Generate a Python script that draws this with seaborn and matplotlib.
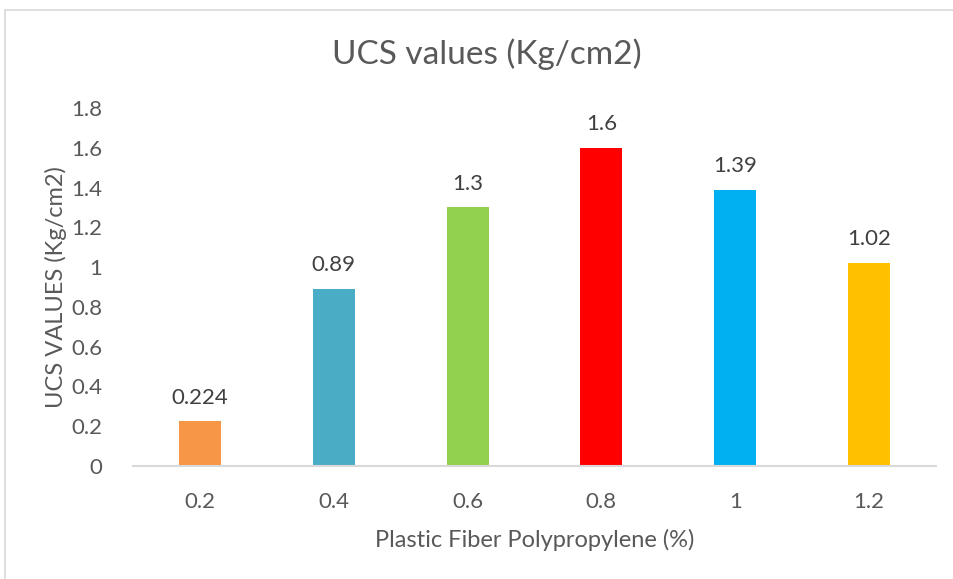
import matplotlib
matplotlib.use("Agg")
import matplotlib.pyplot as plt
import seaborn as sns
import pandas as pd
from matplotlib.lines import Line2D

categories = ["0.2", "0.4", "0.6", "0.8", "1", "1.2"]
values = [0.224, 0.89, 1.3, 1.6, 1.39, 1.02]
value_labels = ["0.224", "0.89", "1.3", "1.6", "1.39", "1.02"]
colors = ["#F79646", "#4BACC6", "#92D050", "#FF0000", "#00B0F0", "#FFC000"]
yticks = [0, 0.2, 0.4, 0.6, 0.8, 1.0, 1.2, 1.4, 1.6, 1.8]
ytick_labels = ["0", "0.2", "0.4", "0.6", "0.8", "1", "1.2", "1.4", "1.6", "1.8"]

sns.set_theme(style="white")
plt.rcParams['font.family'] = ['Lato', 'DejaVu Sans']
txt = "#595959"

df = pd.DataFrame({"cat": categories, "val": values})

fig = plt.figure(figsize=(9.54, 5.79), dpi=100)
ax = fig.add_axes([133/954, 1-466/579, (936-133)/954, (466-108)/579])
sns.barplot(data=df, x="cat", y="val", hue="cat", palette=colors,
            order=categories, hue_order=categories, legend=False,
            width=0.315, saturation=1, linewidth=0, ax=ax)

ax.set_ylim(0, 1.8)
ax.set_xlim(-0.5, len(categories) - 0.5)
ax.set_yticks(yticks)
ax.set_yticklabels(ytick_labels)
ax.tick_params(axis='both', length=0, labelsize=16, colors=txt)
ax.tick_params(axis='x', pad=19)
ax.tick_params(axis='y', pad=22)
for s in ["top", "right", "left"]:
    ax.spines[s].set_visible(False)
ax.spines["bottom"].set_color("#D9D9D9")
ax.spines["bottom"].set_linewidth(1.5)

for p, lab in zip(ax.patches, value_labels):
    ax.annotate(lab, (p.get_x() + p.get_width() / 2, p.get_height()),
                xytext=(0, 10), textcoords="offset points",
                ha="center", va="bottom", fontsize=16, color="#404040")

ax.set_xlabel("Plastic Fiber Polypropylene (%)", fontsize=17, color=txt, labelpad=12)
ax.set_ylabel("UCS VALUES (Kg/cm2)", fontsize=17, color=txt)
ax.yaxis.set_label_coords(-0.082, 0.5)

fig.text(487/954, 1-54/579, "UCS values (Kg/cm2)", ha="center", va="center",
         fontsize=24, color=txt)

# chart border
fig.add_artist(Line2D([5/954, 5/954], [0, 1-10/579], color="#D9D9D9", lw=1.2, transform=fig.transFigure))
fig.add_artist(Line2D([5/954, 1], [1-10/579, 1-10/579], color="#D9D9D9", lw=1.2, transform=fig.transFigure))

fig.savefig("out.png", dpi=100)
